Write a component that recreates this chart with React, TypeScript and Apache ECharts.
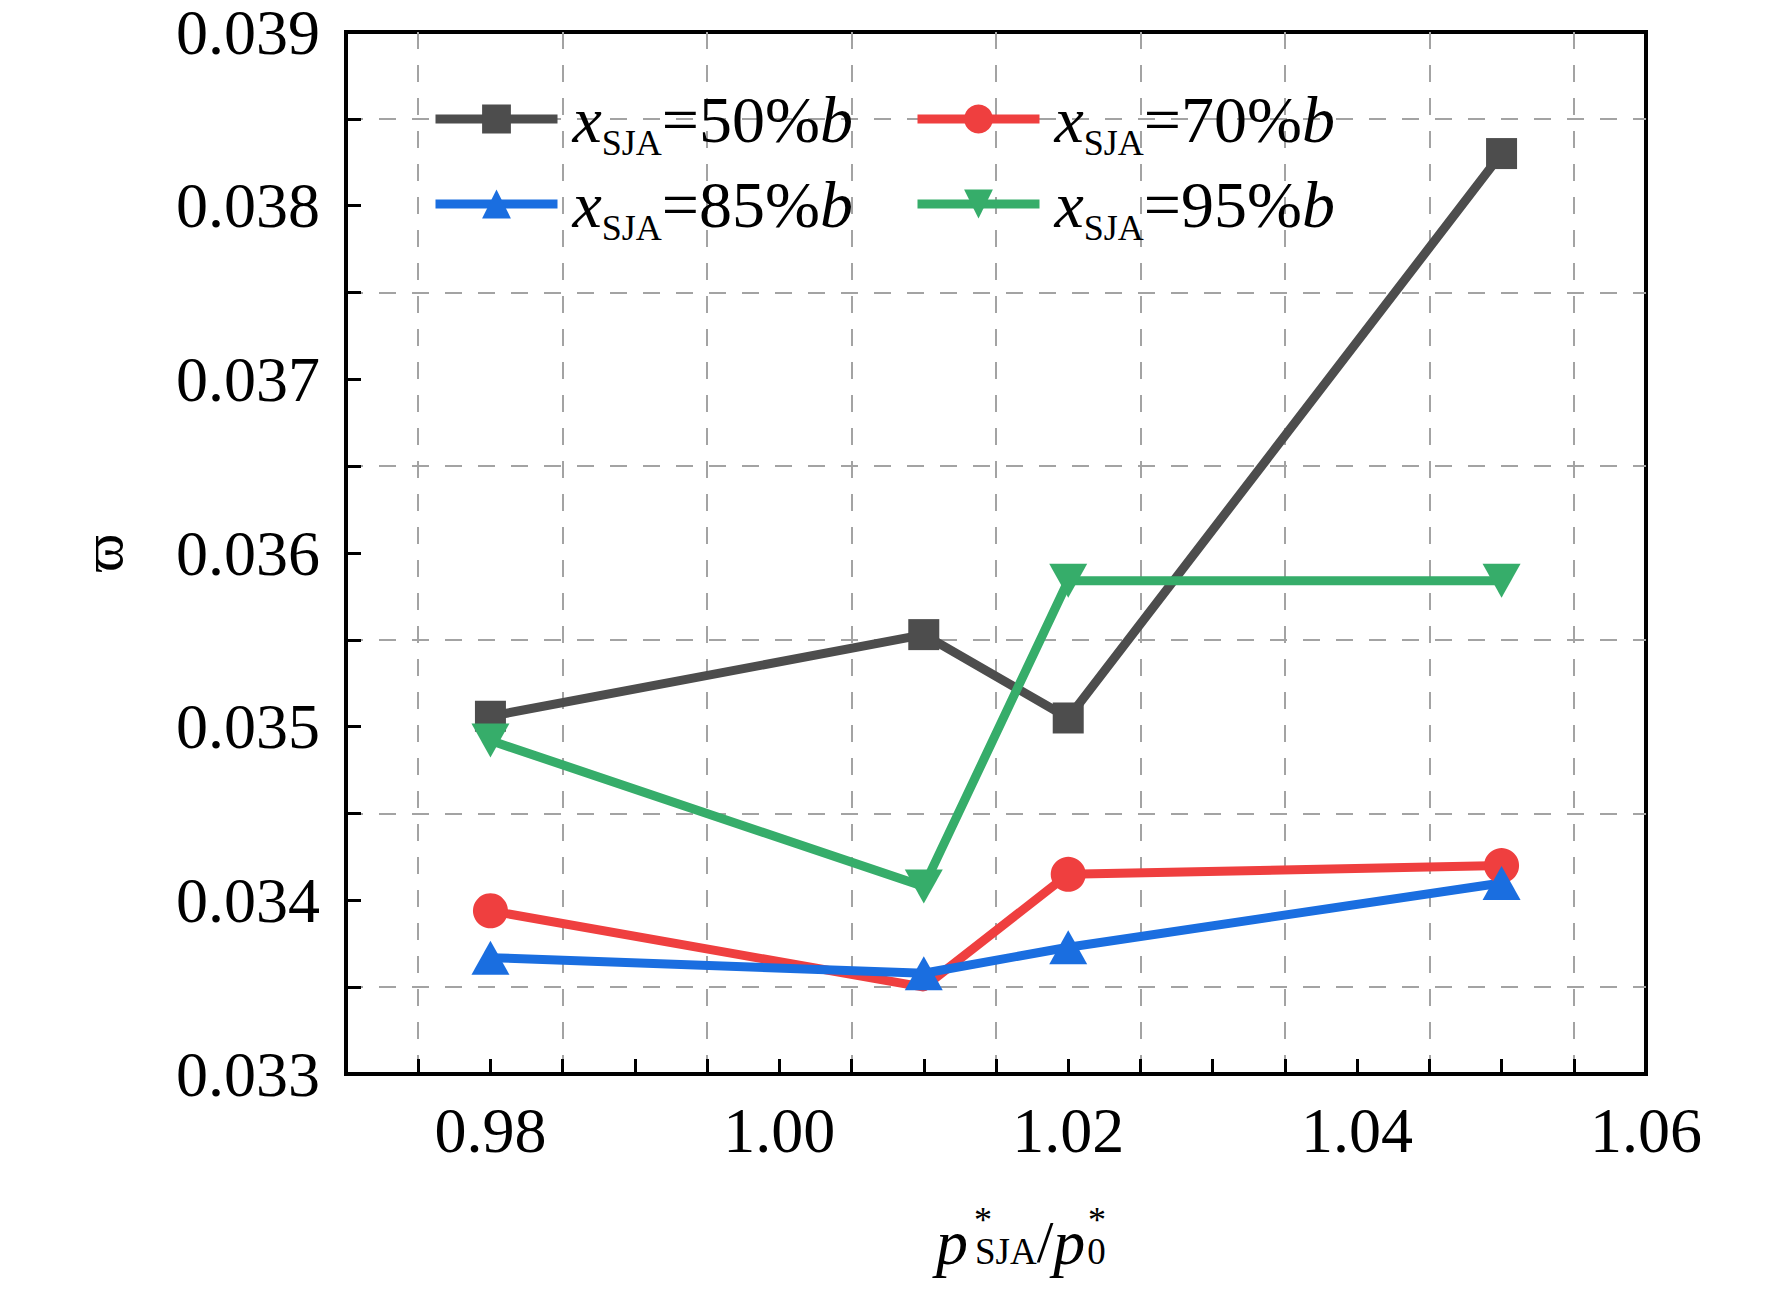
import React, { useEffect, useRef } from 'react';
import * as echarts from 'echarts';

// x positions (p*_SJA / p*_0) shared by all series
const xValues = [0.98, 1.01, 1.02, 1.05];

// ϖ for each jet position
const s50 = [0.03506, 0.03553, 0.03505, 0.0383];
const s70 = [0.03394, 0.0335, 0.03415, 0.0342];
const s85 = [0.03367, 0.03358, 0.03373, 0.0341];
const s95 = [0.03492, 0.03408, 0.03584, 0.03584];

// points drawn without a marker (hidden in the original plot)
const s70NoMarker = [1];

const seriesNames = ['50%', '70%', '85%', '95%'];
const xTickLabels = ['0.98', '1.00', '1.02', '1.04', '1.06'];

const SERIF = "'Liberation Serif', 'DejaVu Serif', 'Times New Roman', serif";

const App: React.FC = () => {
  const chartRef = useRef<HTMLDivElement>(null);

  useEffect(() => {
    document.body.style.margin = '0';
    if (!chartRef.current) return;
    const chart = echarts.init(chartRef.current, undefined, { renderer: 'svg' });

    const toPairs = (ys: number[], hidden: number[] = []) =>
      xValues.map((x, i) => (hidden.includes(i) ? { value: [x, ys[i]], symbol: 'none' } : [x, ys[i]]));

    const lineSeries = (name: string, data: any[], color: string, symbol: string, size: any) => ({
      name,
      type: 'line',
      data,
      symbol,
      symbolSize: size,
      lineStyle: { color, width: 9 },
      itemStyle: { color },
    });

    const legendRich = {
      x: { fontFamily: SERIF, fontStyle: 'italic', fontSize: 66, lineHeight: 84, color: '#000', padding: [0, 0, 0, 10] },
      s: { fontFamily: SERIF, fontSize: 36, lineHeight: 14, verticalAlign: 'bottom', color: '#000' },
      n: { fontFamily: SERIF, fontSize: 66, lineHeight: 84, color: '#000' },
      b: { fontFamily: SERIF, fontStyle: 'italic', fontSize: 66, lineHeight: 84, color: '#000' },
    };

    const legendAt = (name: string, left: number, top: number) => ({
      data: [name],
      left,
      top,
      padding: 0,
      itemWidth: 122,
      itemHeight: 36,
      selectedMode: false,
      lineStyle: { width: 9 },
      formatter: (n: string) => `{x|x}{s|SJA}{n|=${n}}{b|b}`,
      textStyle: { rich: legendRich },
    });

    const gridDash = { color: '#a3a3a3', width: 2, type: [17, 16] };

    const option: any = {
      animation: false,
      backgroundColor: '#fff',
      grid: {
        left: 346,
        right: 126,
        top: 32,
        bottom: 215,
        show: true,
        borderColor: '#000',
        borderWidth: 4,
        backgroundColor: 'transparent',
      },
      legend: [
        legendAt(seriesNames[0], 431, 86),
        legendAt(seriesNames[1], 913, 86),
        legendAt(seriesNames[2], 431, 171),
        legendAt(seriesNames[3], 913, 171),
      ],
      xAxis: {
        type: 'value',
        min: 0.97,
        max: 1.06,
        interval: 0.01,
        axisLine: { show: true, onZero: false, lineStyle: { color: '#000', width: 4 } },
        axisTick: { show: true, inside: true, length: 15, lineStyle: { color: '#000', width: 3 } },
        minorTick: { show: true, splitNumber: 2, length: 15, lineStyle: { color: '#000', width: 3 } },
        splitLine: { show: false },
        minorSplitLine: { show: true, lineStyle: gridDash },
        axisLabel: {
          margin: 26,
          fontFamily: SERIF,
          fontSize: 64,
          lineHeight: 60,
          color: '#000',
          formatter: (v: number) => {
            const s = v.toFixed(2);
            return xTickLabels.includes(s) ? s : '';
          },
        },
      },
      yAxis: {
        type: 'value',
        min: 0.033,
        max: 0.039,
        interval: 0.001,
        name: 'ϖ',
        nameLocation: 'middle',
        nameRotate: 90,
        nameGap: 215,
        nameTextStyle: { fontFamily: SERIF, fontSize: 58, color: '#000' },
        axisLine: { show: true, onZero: false, lineStyle: { color: '#000', width: 4 } },
        axisTick: { show: true, inside: true, length: 15, lineStyle: { color: '#000', width: 3 } },
        minorTick: { show: true, splitNumber: 2, length: 15, lineStyle: { color: '#000', width: 3 } },
        splitLine: { show: false },
        minorSplitLine: { show: true, lineStyle: gridDash },
        axisLabel: {
          margin: 26,
          fontFamily: SERIF,
          fontSize: 64,
          lineHeight: 56,
          color: '#000',
          formatter: (v: number) => v.toFixed(3),
        },
      },
      graphic: [
        {
          type: 'text',
          left: 936,
          top: 1210,
          style: {
            text: '{i|p}{s|SJA}{n|/}{i|p}{z|0}',
            rich: {
              i: { fontFamily: SERIF, fontStyle: 'italic', fontSize: 64, lineHeight: 56, fill: '#000' },
              s: { fontFamily: SERIF, fontSize: 37, lineHeight: 12, verticalAlign: 'bottom', padding: [0, 0, 0, 7], fill: '#000' },
              z: { fontFamily: SERIF, fontSize: 37, lineHeight: 12, verticalAlign: 'bottom', padding: [0, 0, 0, 2], fill: '#000' },
              n: { fontFamily: SERIF, fontSize: 60, lineHeight: 56, fill: '#000' },
            },
          },
        },
        {
          type: 'text',
          x: 983,
          y: 1220,
          style: { text: '*', fontFamily: SERIF, fontSize: 36, fill: '#000', align: 'center', verticalAlign: 'middle' },
        },
        {
          type: 'text',
          x: 1097,
          y: 1220,
          style: { text: '*', fontFamily: SERIF, fontSize: 36, fill: '#000', align: 'center', verticalAlign: 'middle' },
        },
      ],
      series: [
        lineSeries(seriesNames[0], toPairs(s50), '#4d4d4d', 'rect', 31),
        lineSeries(seriesNames[1], toPairs(s70, s70NoMarker), '#ef3f3f', 'circle', 35),
        lineSeries(seriesNames[2], toPairs(s85), '#1a6ee0', 'triangle', [38, 34]),
        lineSeries(seriesNames[3], toPairs(s95), '#36ad6a', 'path://M0 0L2 0L1 2Z', [38, 34]),
      ],
    };

    chart.setOption(option);

    const handleResize = () => chart.resize();
    window.addEventListener('resize', handleResize);
    return () => {
      window.removeEventListener('resize', handleResize);
      chart.dispose();
    };
  }, []);

  return <div ref={chartRef} style={{ width: '1772px', height: '1289px' }}></div>;
};

export default App;
